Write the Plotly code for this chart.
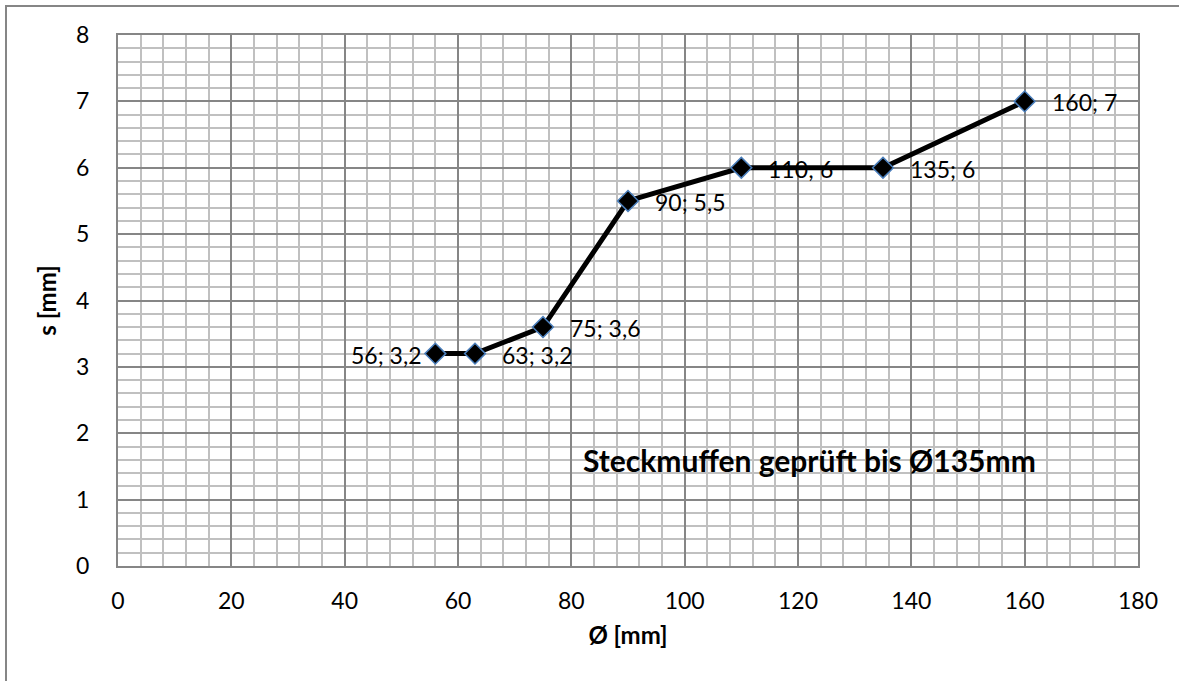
import plotly.graph_objects as go

diameters = [56, 63, 75, 90, 110, 135, 160]
wall = [3.2, 3.2, 3.6, 5.5, 6, 6, 7]
label_side = ["left", "right", "right", "right", "right", "right", "right"]
x_title = "Ø [mm]"
y_title = "s [mm]"
note_text = "Steckmuffen geprüft bis Ø135mm"
note_x, note_y = 122, 1.6

FONT = "Lato, Carlito, Calibri, sans-serif"

def fmt(v):
    s = ("%g" % v).replace(".", ",")
    return s

fig = go.Figure()
fig.add_trace(go.Scatter(
    x=diameters, y=wall, mode="lines+markers",
    line=dict(color="black", width=5),
    marker=dict(symbol="diamond", size=16, color="black",
                line=dict(color="#4a7ebb", width=1.5)),
    showlegend=False, hoverinfo="skip"))

annotations = []
for xv, yv, side in zip(diameters, wall, label_side):
    annotations.append(dict(
        x=xv, y=yv, xref="x", yref="y", text=f"{xv}; {fmt(yv)}",
        showarrow=False, xanchor="right" if side == "left" else "left",
        xshift=-12 if side == "left" else 25, yshift=-1,
        font=dict(family=FONT, size=23, color="black")))
annotations.append(dict(
    x=note_x, y=note_y, xref="x", yref="y", text=f"<b>{note_text}</b>",
    showarrow=False, xanchor="center", yanchor="middle",
    font=dict(family=FONT, size=30, color="black")))

W, H = 1179, 681
ml, mr, mt, mb = 118, 41, 35, 115
pw, ph = W - ml - mr, H - mt - mb

shapes = [dict(type="rect", xref="paper", yref="paper",
               x0=(6 - ml) / pw, x1=(W + 20 - ml) / pw,
               y0=-(mb + 20) / ph, y1=1 + (mt - 6) / ph,
               line=dict(color="#868686", width=2), fillcolor="rgba(0,0,0,0)",
               layer="below")]

fig.update_layout(
    width=W, height=H,
    margin=dict(l=ml, r=mr, t=mt, b=mb),
    paper_bgcolor="white", plot_bgcolor="white",
    font=dict(family=FONT, size=23, color="black"),
    annotations=annotations, shapes=shapes,
    xaxis=dict(range=[0, 180], dtick=20, tick0=0,
               showgrid=True, gridcolor="#868686", gridwidth=1.5,
               minor=dict(dtick=4, showgrid=True, gridcolor="#c0c0c0", gridwidth=1.7),
               showline=True, linecolor="#868686", linewidth=2, mirror=True,
               zeroline=False, ticks="", ticklabelstandoff=13,
               title=dict(text=f"<b>{x_title}</b>", font=dict(size=24), standoff=15),
               tickfont=dict(size=23)),
    yaxis=dict(range=[0, 8], dtick=1, tick0=0,
               showgrid=True, gridcolor="#868686", gridwidth=1.5,
               minor=dict(dtick=0.2, showgrid=True, gridcolor="#c0c0c0", gridwidth=1.7),
               showline=True, linecolor="#868686", linewidth=2, mirror=True,
               zeroline=False, ticks="", ticklabelstandoff=22,
               title=dict(text=f"<b>{y_title}</b>", font=dict(size=24), standoff=13),
               tickfont=dict(size=23)),
)

fig.write_html("out.html", config={"displayModeBar": False},
               post_script="document.body.style.margin='0';document.body.style.padding='0';")
